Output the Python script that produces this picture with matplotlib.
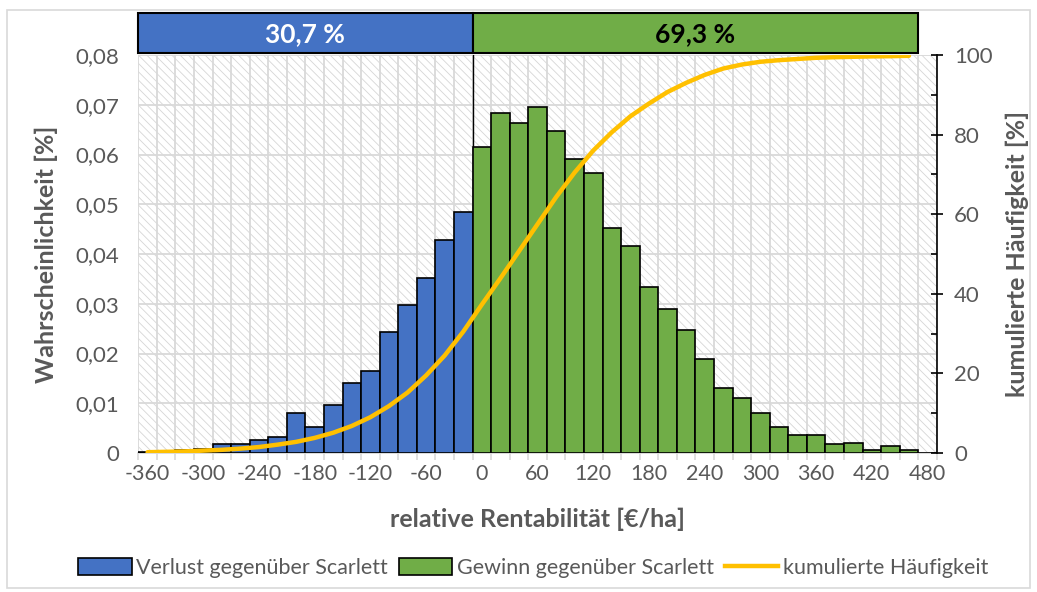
import numpy as np
import matplotlib
matplotlib.use("Agg")
import matplotlib.pyplot as plt
from matplotlib.patches import Patch, Rectangle
from matplotlib.lines import Line2D

plt.rcParams['font.family'] = ['Lato', 'DejaVu Sans']
plt.rcParams['hatch.linewidth'] = 0.6

# Klassenmitten der relativen Rentabilität [€/ha], Klassenbreite 20
klassen = list(range(-360, 481, 20))

# Wahrscheinlichkeit je Klasse
verlust = [0.0002, 0.0004, 0.0007, 0.0008, 0.0018, 0.0019, 0.0027, 0.0033, 0.0081,
           0.0053, 0.0097, 0.0140, 0.0165, 0.0244, 0.0298, 0.0352, 0.0428, 0.0485]
gewinn = [0.0616, 0.0683, 0.0663, 0.0695, 0.0648, 0.0590, 0.0563, 0.0453, 0.0417,
          0.0334, 0.0289, 0.0247, 0.0189, 0.0131, 0.0111, 0.0081, 0.0052, 0.0036,
          0.0036, 0.0019, 0.0021, 0.0007, 0.0014, 0.0007, 0.0]

# kumulierte Häufigkeit [%] an den Klassenmitten
kumuliert = [0.2, 0.3, 0.4, 0.6, 0.8, 1.1, 1.5, 2.1, 2.8, 3.8,
             5.1, 6.8, 9.0, 11.8, 15.2, 19.5, 24.5, 30.5, 37.3, 43.9,
             50.7, 57.5, 64.3, 70.5, 76.0, 80.6, 84.6, 87.8, 90.7, 93.0,
             95.0, 96.6, 97.6, 98.3, 98.7, 99.0, 99.3, 99.45, 99.55, 99.65,
             99.7, 99.8]

anteile = ["30,7 %", "69,3 %"]

blau = '#4472C4'
gruen = '#70AD47'
gelb = '#FFC000'
grau = '#595959'
gitter = '#d9d9d9'
breite = 20

W, H = 1037, 592
fig = plt.figure(figsize=(W / 100, H / 100), dpi=100)

# Rahmen des Diagrammbereichs
fig.patches.append(Rectangle((7 / W, 4 / H), 1023 / W, 578 / H, transform=fig.transFigure,
                             facecolor='none', edgecolor=gitter, lw=1.2))

links, rechts, oben, unten = 138.3, 936.8, 55, 453
ax = fig.add_axes([links / W, 1 - unten / H, (rechts - links) / W, (unten - oben) / H])
ax.set_facecolor('white')
ax.add_patch(Rectangle((0, 0), 1, 1, transform=ax.transAxes, facecolor='white',
                       edgecolor='#d6d6d6', lw=0, hatch='\\\\\\\\', zorder=0.2))

x_verlust = klassen[:len(verlust)]
x_gewinn = klassen[len(verlust):]
ax.bar(x_verlust, verlust, width=breite, color=blau, edgecolor='black', lw=1.2, zorder=3)
ax.bar(x_gewinn, gewinn, width=breite, color=gruen, edgecolor='black', lw=1.2, zorder=3)

grenze = x_gewinn[0] - breite / 2
ax.axvline(grenze, color='black', lw=1.0, zorder=2.5)

ax.set_xlim(klassen[0] - breite / 2, klassen[-1] + breite / 2)
ax.set_ylim(0, 0.08)
ax.set_xticks(klassen[::3])
ax.set_xticklabels([str(k) for k in klassen[::3]])
kanten = [k - breite / 2 for k in klassen] + [klassen[-1] + breite / 2]
ax.set_xticks(kanten, minor=True)
ax.set_yticks(np.arange(0, 0.081, 0.01))
ax.set_yticklabels(['0' if v == 0 else f'{v:.2f}'.replace('.', ',') for v in np.arange(0, 0.081, 0.01)])
ax.set_axisbelow(True)
ax.yaxis.grid(True, color=gitter, lw=1.3)
ax.xaxis.grid(True, which='minor', color=gitter, lw=1.3)
ax.tick_params(axis='x', which='major', length=0, pad=8, labelsize=15.5, labelcolor=grau)
ax.tick_params(axis='x', which='minor', length=5, color=gitter, width=1.2)
ax.tick_params(axis='y', length=0, pad=14, labelsize=16, labelcolor=grau)
for s in ['left', 'top', 'right']:
    ax.spines[s].set_visible(False)
ax.spines['bottom'].set_color(gitter)
ax.spines['bottom'].set_linewidth(1.3)
ax.set_xlabel('relative Rentabilität [€/ha]', fontsize=18, fontweight='bold', color=grau, labelpad=17)
ax.set_ylabel('Wahrscheinlichkeit [%]', fontsize=18, fontweight='bold', color=grau, labelpad=12)

# zweite Achse: kumulierte Häufigkeit
ax2 = ax.twinx()
ax2.plot(klassen[:len(kumuliert)], kumuliert, color=gelb, lw=3.2, solid_capstyle='round', zorder=5)
ax2.set_ylim(0, 100)
ax2.set_yticks(range(0, 101, 20))
ax2.set_yticks(range(10, 100, 20), minor=True)
for s in ['left', 'top', 'bottom']:
    ax2.spines[s].set_visible(False)
ax2.spines['right'].set_color('black')
ax2.spines['right'].set_linewidth(1.2)
ax2.tick_params(axis='y', which='major', direction='inout', length=9, width=1.2, color='black',
                pad=8, labelsize=16, labelcolor=grau)
ax2.tick_params(axis='y', which='minor', direction='in', length=4, width=1.2, color='black')
ax2.set_ylabel('kumulierte Häufigkeit [%]', fontsize=18, fontweight='bold', color=grau, labelpad=9)

# Anteile Verlust / Gewinn als Balken oberhalb
axt = fig.add_axes([links / W, 1 - 52.5 / H, (rechts - links) / W, 40 / H])
axt.set_xlim(ax.get_xlim())
axt.set_ylim(0, 1)
axt.axis('off')
letzte = max(i for i, v in enumerate(gewinn) if v > 0)
b_start = x_verlust[0] - breite / 2
g_ende = x_gewinn[letzte] + breite / 2
axt.bar(b_start, 1, width=grenze - b_start, align='edge', color=blau, edgecolor='black', lw=1.5, clip_on=False)
axt.bar(grenze, 1, width=g_ende - grenze, align='edge', color=gruen, edgecolor='black', lw=1.5, clip_on=False)
axt.text((b_start + grenze) / 2, 0.45, anteile[0], ha='center', va='center', color='white',
         fontsize=19, fontweight='bold')
axt.text((grenze + g_ende) / 2, 0.45, anteile[1], ha='center', va='center', color='black',
         fontsize=19, fontweight='bold')

handles = [Patch(facecolor=blau, edgecolor='black', lw=1.2),
           Patch(facecolor=gruen, edgecolor='black', lw=1.2),
           Line2D([0], [0], color=gelb, lw=3.2)]
labels = ['Verlust gegenüber Scarlett', 'Gewinn gegenüber Scarlett', 'kumulierte Häufigkeit']
fig.legend(handles, labels, loc='center', bbox_to_anchor=(533 / W, 1 - 568 / H), ncol=3,
           frameon=False, fontsize=15.5, labelcolor=grau, handlelength=2.5, handleheight=0.8,
           handletextpad=0.2, columnspacing=0.5)

fig.savefig('out.png', dpi=100)
